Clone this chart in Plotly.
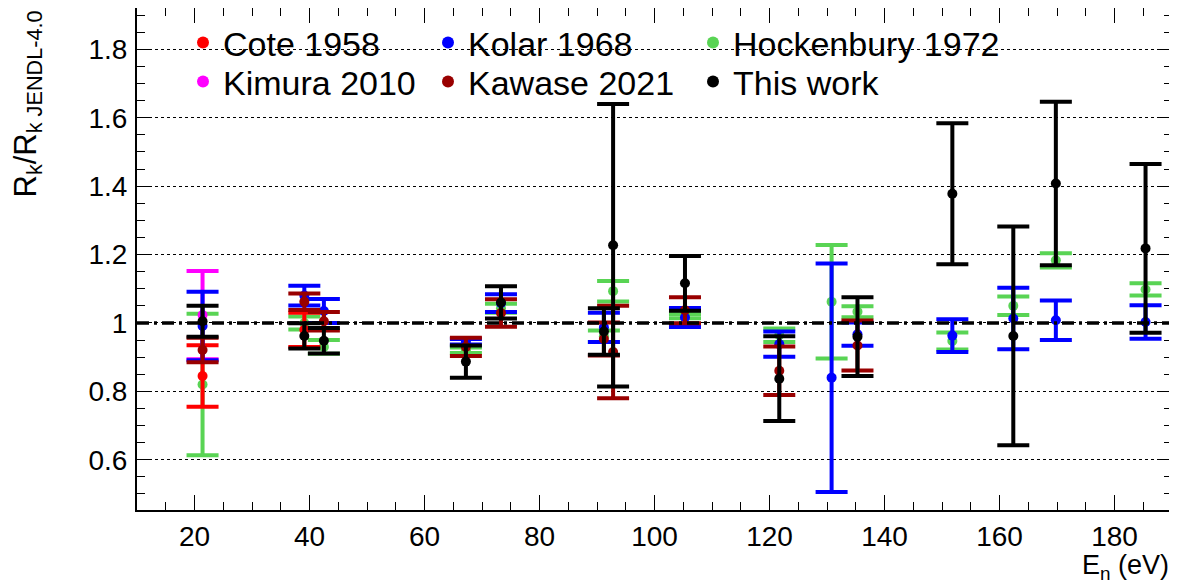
import plotly.graph_objects as go

# ---------------- data ----------------
cote_E = [21.4, 39.1]
cote_R = [0.845, 0.98]
cote_err = [0.09, 0.05]

kimura_E = [21.4]
kimura_R = [1.023]
kimura_err = [0.129]

kolar_E = [21.4, 39.1, 42.5, 67.2, 73.3, 91.2, 105.3, 121.7, 130.8, 135.3, 151.8, 162.4, 169.8, 185.4]
kolar_R = [0.991, 1.08, 1.035, 0.945, 1.058, 0.987, 1.016, 0.938, 0.84, 0.967, 0.963, 1.013, 1.008, 1.003]
kolar_err = [0.10, 0.029, 0.035, 0.008, 0.026, 0.043, 0.028, 0.037, 0.334, 0.034, 0.048, 0.09, 0.058, 0.049]

hock_E = [21.4, 39.1, 42.5, 67.2, 73.3, 91.2, 92.8, 105.3, 121.7, 130.8, 135.3, 151.8, 162.4, 169.8, 185.4]
hock_R = [0.82, 1.0, 0.93, 0.92, 1.043, 0.961, 1.093, 1.02, 0.964, 1.062, 1.033, 0.947, 1.05, 1.183, 1.098]
hock_err = [0.207, 0.019, 0.02, 0.008, 0.013, 0.017, 0.03, 0.006, 0.02, 0.166, 0.016, 0.025, 0.027, 0.021, 0.018]

kawase_E = [21.4, 39.1, 42.5, 67.2, 73.3, 91.2, 92.8, 105.3, 121.7, 135.3]
kawase_R = [0.921, 1.062, 1.005, 0.93, 1.029, 0.953, 0.915, 1.037, 0.86, 0.934]
kawase_err = [0.036, 0.024, 0.027, 0.027, 0.04, 0.048, 0.135, 0.038, 0.071, 0.073]

this_E = [21.4, 39.1, 42.5, 67.2, 73.3, 91.2, 92.8, 105.3, 121.7, 135.3, 151.8, 162.4, 169.8, 185.4]
this_R = [1.005, 0.962, 0.948, 0.887, 1.06, 0.975, 1.227, 1.116, 0.837, 0.96, 1.378, 0.962, 1.408, 1.218]
this_err = [0.045, 0.037, 0.037, 0.047, 0.047, 0.068, 0.413, 0.08, 0.124, 0.115, 0.206, 0.32, 0.239, 0.247]

x_range = [10, 190]
y_range = [0.453, 1.921]
y_tickvals = [0.6, 0.8, 1.0, 1.2, 1.4, 1.6, 1.8]
y_ticktext = ["0.6", "0.8", "1", "1.2", "1.4", "1.6", "1.8"]

# ---------------- figure ----------------
FONT = "Liberation Sans, Arial, Helvetica, sans-serif"

W, H = 1177, 583
OFF = 8  # page body margin
ml, mr, mt, mb = 129, 13, 0, 81
pw = W - ml - mr
ph = H - mt - mb


def px_x(page_px):
    return (page_px - OFF - ml) / pw


def px_y(page_py):
    return 1 - (page_py - OFF - mt) / ph


# legend placement (page pixels of text start and row centre)
COL_TEXT = [225, 470, 735]
ROW_CENTRE = [45, 84]
LEG_FS = 34

series = [
    # name, E, R, err, color, legend id, column, row
    ("Hockenbury 1972", hock_E, hock_R, hock_err, "#59D454", "legend3", 2, 0),
    ("Kimura 2010", kimura_E, kimura_R, kimura_err, "#FF00FF", "legend4", 0, 1),
    ("Cote 1958", cote_E, cote_R, cote_err, "#FF0000", "legend", 0, 0),
    ("Kolar 1968", kolar_E, kolar_R, kolar_err, "#0000FF", "legend2", 1, 0),
    ("Kawase 2021", kawase_E, kawase_R, kawase_err, "#990000", "legend5", 1, 1),
    ("This work", this_E, this_R, this_err, "#000000", "legend6", 2, 1),
]

fig = go.Figure()
legends = {}
for name, E, R, err, col, leg, c, r in series:
    fig.add_trace(go.Scatter(
        x=E, y=R, mode="markers", name=name,
        marker=dict(color=col, size=10, symbol="circle"),
        error_y=dict(type="data", array=err, visible=True, color=col,
                     thickness=4, width=16),
        legend=leg,
    ))
    legends[leg] = dict(
        x=px_x(COL_TEXT[c] - 42), y=px_y(ROW_CENTRE[r] - 31),
        xanchor="left", yanchor="top", orientation="v",
        font=dict(family=FONT, size=LEG_FS, color="black"),
        bgcolor="rgba(0,0,0,0)", borderwidth=0, itemsizing="constant",
    )

fig.update_layout(
    width=W, height=H,
    margin=dict(l=ml, r=mr, t=mt, b=mb, autoexpand=False),
    paper_bgcolor="white", plot_bgcolor="white",
    font=dict(family=FONT, size=28, color="black"),
    xaxis=dict(
        range=x_range, showgrid=False, zeroline=False,
        showline=True, linecolor="black", linewidth=2, mirror="allticks",
        ticks="inside", ticklen=15, tickwidth=1, tickcolor="black",
        dtick=20, tick0=0, ticklabelstandoff=0,
        minor=dict(ticks="inside", ticklen=8, dtick=5, tick0=0, tickcolor="black", showgrid=False),
        tickfont=dict(family=FONT, size=28),
    ),
    yaxis=dict(
        range=y_range, zeroline=False,
        showgrid=True, gridcolor="black", gridwidth=1, griddash="dot",
        showline=True, linecolor="black", linewidth=2, mirror="allticks",
        ticks="inside", ticklen=15, tickwidth=1, tickcolor="black",
        tickvals=y_tickvals, ticktext=y_ticktext, ticklabelstandoff=2,
        minor=dict(ticks="inside", ticklen=8, dtick=0.05, tick0=0, tickcolor="black", showgrid=False),
        tickfont=dict(family=FONT, size=28),
    ),
    showlegend=True,
    **legends,
)

# white legend box over the grid (below the data)
fig.add_shape(type="rect", xref="paper", yref="paper",
              x0=px_x(170), x1=px_x(1000),
              y0=px_y(100), y1=px_y(22),
              fillcolor="white", line=dict(width=0), layer="between")

# reference line at ratio 1
fig.add_shape(type="line", xref="paper", yref="y", x0=0, x1=1, y0=1, y1=1,
              line=dict(color="black", width=3.5, dash="12px,5px,3px,5px"), layer="above")

# axis titles
fig.add_annotation(text="R<sub>k</sub>/R<sub>k JENDL-4.0</sub>", textangle=-90,
                   xref="paper", yref="paper", x=px_x(27), y=px_y(9),
                   xanchor="center", yanchor="top", showarrow=False,
                   font=dict(family=FONT, size=31, color="black"))
fig.add_annotation(text="E<sub>n</sub> (eV)",
                   xref="paper", yref="paper", x=px_x(1171), y=px_y(567),
                   xanchor="right", yanchor="middle", showarrow=False,
                   font=dict(family=FONT, size=27, color="black"))

fig.write_html("out.html")
